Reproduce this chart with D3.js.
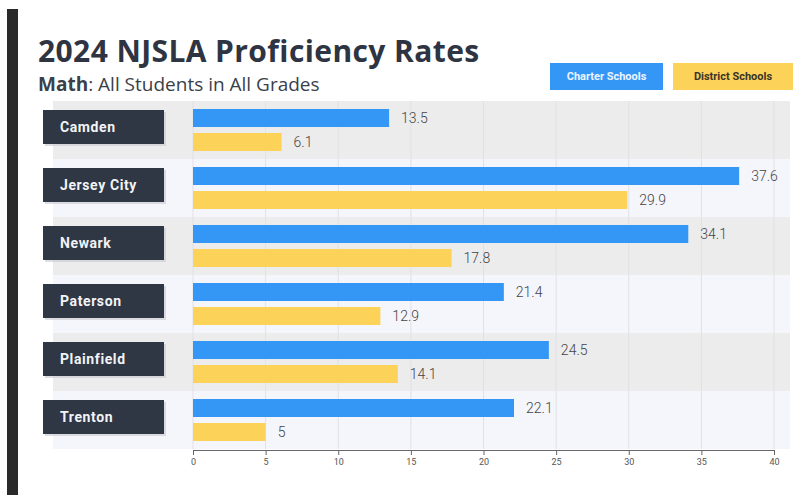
<!DOCTYPE html>
<html>
<head>
<meta charset="utf-8">
<script src="https://cdn.jsdelivr.net/npm/d3@7"></script>
<style>
body{margin:0;background:#fff;}
</style>
</head>
<body>
<svg id="chart" width="806" height="495"></svg>
<script>
// data
var cities=['Camden','Jersey City','Newark','Paterson','Plainfield','Trenton'];
var charter=[13.5,37.6,34.1,21.4,24.5,22.1];
var district=[6.1,29.9,17.8,12.9,14.1,5];
var ticks=[0,5,10,15,20,25,30,35,40];

var blue='#3497f6', yellow='#fdd259', dark='#2f3644';

var svg=d3.select('#chart');

// left dark bar
svg.append('rect').attr('x',7).attr('y',9).attr('width',11).attr('height',486).style('fill','#2a2a2a');

// title
svg.append('text').attr('x',38).attr('y',62).text('2024 NJSLA Proficiency Rates')
  .style('font-family','Open Sans').style('font-weight','700').style('font-size','30px').style('letter-spacing','0.4px').style('fill','#2e3442');
var sub=svg.append('text').attr('x',38).attr('y',91)
  .style('font-family','Open Sans').style('font-size','19px').style('fill','#3a3f4a');
sub.append('tspan').text('Math').style('font-weight','700');
sub.append('tspan').text(': All Students in All Grades');

// legend
var legend=[{name:'Charter Schools',x:550,w:113,fill:blue,color:'#eef4ff'},{name:'District Schools',x:673,w:120,fill:yellow,color:'#3b3526'}];
legend.forEach(l=>{
  svg.append('rect').attr('x',l.x).attr('y',63).attr('width',l.w).attr('height',27).style('fill',l.fill);
  svg.append('text').attr('x',l.x+l.w/2).attr('y',80).attr('text-anchor','middle').text(l.name)
    .style('font-family','Roboto').style('font-weight','700').style('font-size','11px').style('fill',l.color);
});

var x=d3.scaleLinear().domain([0,40]).range([193,774]);
var y=d3.scaleBand().domain(cities).range([101,449]);
var bw=y.bandwidth();

// row bands
svg.selectAll('.band').data(cities).enter().append('rect')
  .attr('x',53).attr('y',d=>y(d)).attr('width',737).attr('height',bw)
  .style('fill',(d,i)=>i%2==0?'#ececec':'#f5f6fb');

// grid lines
svg.selectAll('.grid').data(ticks).enter().append('line')
  .attr('x1',d=>x(d)).attr('x2',d=>x(d)).attr('y1',101).attr('y2',449)
  .style('stroke','#e0e1e6').style('stroke-width',1);

// bars
var rows=cities.map((c,i)=>({city:c,charter:charter[i],district:district[i]}));
var g=svg.selectAll('.row').data(rows).enter().append('g');
g.append('rect').attr('x',x(0)).attr('y',d=>y(d.city)+8).attr('width',d=>x(d.charter)-x(0)).attr('height',18).style('fill',blue);
g.append('rect').attr('x',x(0)).attr('y',d=>y(d.city)+32).attr('width',d=>x(d.district)-x(0)).attr('height',18).style('fill',yellow);
g.append('text').attr('x',d=>x(d.charter)+12).attr('y',d=>y(d.city)+22).text(d=>d.charter)
  .style('font-family','Roboto').style('font-weight','300').style('font-size','14px').style('fill','#444');
g.append('text').attr('x',d=>x(d.district)+12).attr('y',d=>y(d.city)+46).text(d=>d.district)
  .style('font-family','Roboto').style('font-weight','300').style('font-size','14px').style('fill','#444');

// label boxes
g.append('rect').attr('x',45).attr('y',d=>y(d.city)+11).attr('width',121).attr('height',34).style('fill','#c8c9cf').style('opacity',0.6);
g.append('rect').attr('x',43).attr('y',d=>y(d.city)+9).attr('width',121).attr('height',34).style('fill',dark);
g.append('text').attr('x',60).attr('y',d=>y(d.city)+31).text(d=>d.city)
  .style('font-family','Roboto').style('font-weight','700').style('font-size','14px').style('letter-spacing','0.6px').style('fill','#f2f3f6');

// axis
var axis=svg.append('g').attr('transform','translate(0,450)')
  .call(d3.axisBottom(x).tickValues(ticks).tickSize(5).tickSizeOuter(5));
axis.select('.domain').style('stroke','#666');
axis.selectAll('.tick line').style('stroke','#666');
axis.selectAll('.tick text').attr('dy','0.75em').style('font-family','Roboto').style('font-size','9px').style('fill','#555');
</script>
</body>
</html>
